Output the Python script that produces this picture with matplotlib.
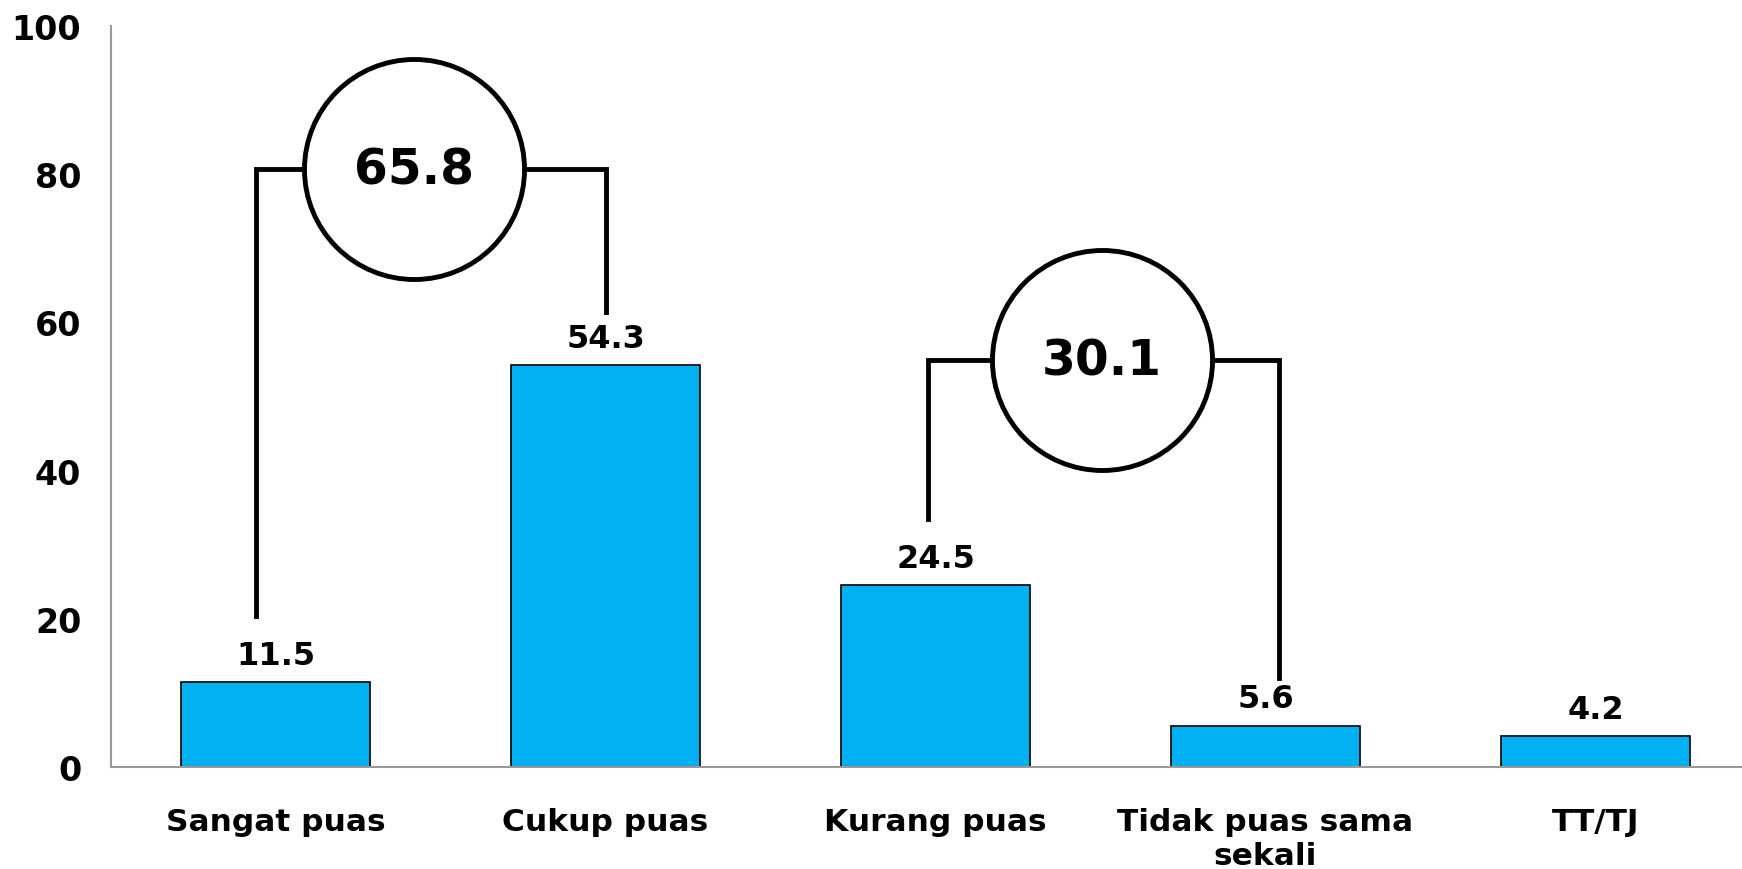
# tingkat kepuasan - bar chart dengan kurung total

import matplotlib.pyplot as plt

kategori = ['Sangat puas', 'Cukup puas', 'Kurang puas', 'Tidak puas sama\nsekali', 'TT/TJ']
nilai = [11.5, 54.3, 24.5, 5.6, 4.2]

# total gabungan (puas / tidak puas)
total_label = ['65.8', '30.1']

# posisi kurung: (x kiri, y kiri bawah, x kanan, y kanan bawah, y atas, x lingkaran)
kurung = [
    (-0.06, 20.4, 1.0, 61.4, 80.7, 0.42),
    (1.976, 33.5, 3.04, 12.0, 54.9, 2.504),
]

plt.rcParams['font.family'] = ['DejaVu Sans']
plt.rcParams['font.weight'] = 'bold'

fig = plt.figure(figsize=(17.42, 8.70), dpi=100)
ax = fig.add_axes([110.5 / 1742, 1 - 768 / 870, 1650 / 1742, 741 / 870])

x = list(range(len(kategori)))
ax.bar(x, nilai, width=0.573, color='#00B0F0', edgecolor='black', linewidth=1.2, zorder=2)

for i, v in enumerate(nilai):
    ax.annotate(f'{v:.1f}', (i, v), xytext=(0, 13), textcoords='offset points',
                ha='center', va='baseline', fontsize=23, fontweight='bold')

for (xl, yl, xr, yr, yt, xc), lab in zip(kurung, total_label):
    ax.plot([xl, xl, xr, xr], [yl, yt, yt, yr], color='black', lw=3.5,
            solid_joinstyle='miter', zorder=3, clip_on=False)
    ax.scatter([xc], [yt], s=25100, facecolor='white', edgecolor='black',
               linewidth=3.5, zorder=4, clip_on=False)
    ax.text(xc, yt, lab, ha='center', va='center', fontsize=35, fontweight='bold', zorder=5)

ax.set_xlim(-0.5, 4.5)
ax.set_ylim(0, 100)
ax.set_yticks([0, 20, 40, 60, 80, 100])
ax.set_xticks(x)
ax.set_xticklabels(kategori, fontsize=22.5, fontweight='bold')
ax.tick_params(axis='y', length=0, pad=21, labelsize=24)
ax.tick_params(axis='x', length=0, pad=29)

for s in ['top', 'right']:
    ax.spines[s].set_visible(False)
for s in ['left', 'bottom']:
    ax.spines[s].set_color('#999999')
    ax.spines[s].set_linewidth(1.5)

plt.savefig('out.png', dpi=100)
